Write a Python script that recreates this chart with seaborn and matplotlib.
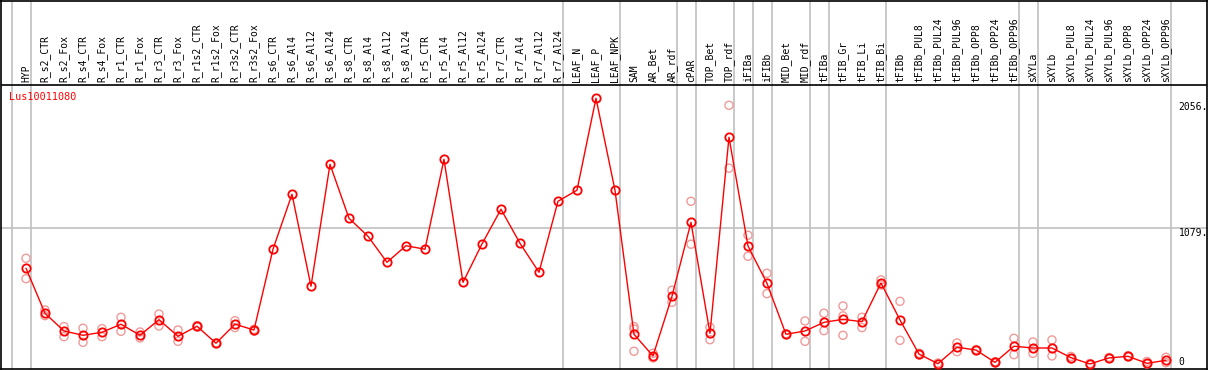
import matplotlib
matplotlib.use("Agg")
import matplotlib.pyplot as plt
import seaborn as sns
import numpy as np
import pandas as pd

categories = ["HYP", "R_s2_CTR", "R_s2_Fox", "R_s4_CTR", "R_s4_Fox", "R_r1_CTR", "R_r1_Fox",
              "R_r3_CTR", "R_r3_Fox", "R_r1s2_CTR", "R_r1s2_Fox", "R_r3s2_CTR", "R_r3s2_Fox",
              "R_s6_CTR", "R_s6_Al4", "R_s6_Al12", "R_s6_Al24", "R_s8_CTR", "R_s8_Al4",
              "R_s8_Al12", "R_s8_Al24", "R_r5_CTR", "R_r5_Al4", "R_r5_Al12", "R_r5_Al24",
              "R_r7_CTR", "R_r7_Al4", "R_r7_Al12", "R_r7_Al24", "LEAF_N", "LEAF_P", "LEAF_NPK",
              "SAM", "AR_Bet", "AR_rdf", "cPAR", "TOP_Bet", "TOP_rdf", "iFIBa", "iFIBb",
              "MID_Bet", "MID_rdf", "tFIBa", "tFIB_Gr", "tFIB_Li", "tFIB_Bi", "tFIBb",
              "tFIBb_PUL8", "tFIBb_PUL24", "tFIBb_PUL96", "tFIBb_OPP8", "tFIBb_OPP24",
              "tFIBb_OPP96", "sXYLa", "sXYLb", "sXYLb_PUL8", "sXYLb_PUL24", "sXYLb_PUL96",
              "sXYLb_OPP8", "sXYLb_OPP24", "sXYLb_OPP96"]

mean_values = [761, 403, 262, 228, 252, 316, 228, 352, 220, 300, 165, 316, 270,
               912, 1349, 618, 1587, 1158, 1015, 808, 940, 912, 1627, 649, 954,
               1230, 959, 729, 1293, 1381, 2112, 1381,
               236, 64, 538, 1126, 244, 1802, 938, 641,
               236, 262, 331, 355, 336, 644, 350,
               79, 2, 133, 111, 13, 141, 127, 127,
               50, 0, 48, 61, 5, 29]

rep_high = [840, 429, 297, 284, 281, 371, 254, 397, 270, 305, 168, 344, 275,
            np.nan, np.nan, np.nan, np.nan, np.nan, np.nan, np.nan, np.nan, np.nan, np.nan,
            np.nan, np.nan, np.nan, np.nan, np.nan, np.nan, np.nan, np.nan, np.nan,
            297, 85, 586, 1293, 292, 2056, 1023, 721,
            240, 342, 403, 461, 371, 668, 498,
            85, 8, 167, 115, 18, 204, 175, 191,
            60, 4, 52, 66, 20, 53]

rep_low = [678, 384, 217, 172, 217, 260, 207, 302, 180, 295, 160, 289, 262,
           np.nan, np.nan, np.nan, np.nan, np.nan, np.nan, np.nan, np.nan, np.nan, np.nan,
           np.nan, np.nan, np.nan, np.nan, np.nan, np.nan, np.nan, np.nan, np.nan,
           101, 48, 490, 952, 193, 1556, 856, 559,
           232, 180, 265, 228, 289, 628, 188,
           72, 0, 98, 107, 8, 74, 85, 64,
           40, 0, 44, 56, 0, 10]

rep_mid_idx = [32, 43]
rep_mid_val = [278, 382]

separator_after = [-1, 0, 28, 31, 34, 35, 37, 38, 39, 41, 42, 45, 52, 53, 60]
ytick_values = [2056, 1079, 0]
ytick_labels = ["2056.", "1079.", "0"]
gene_name = "Lus10011080"

sns.set_style("white")
plt.rcParams["font.family"] = ["DejaVu Sans Mono", "DejaVu Sans"]

idx = np.arange(len(categories))
df_mean = pd.DataFrame({"idx": idx, "value": mean_values})
df_reps = pd.concat([
    pd.DataFrame({"idx": idx, "value": rep_high}),
    pd.DataFrame({"idx": idx, "value": rep_low}),
    pd.DataFrame({"idx": rep_mid_idx, "value": rep_mid_val}),
]).dropna()

fig = plt.figure(figsize=(12.09, 3.70), dpi=100)
ax = fig.add_axes([1 / 1209, 1 / 370, 1206 / 1209, 368.5 / 370])

x_lo, x_hi = -1.316, 62.16
y_lo, y_hi = -40, 2889
plot_top = 2218
ax.set_xlim(x_lo, x_hi)
ax.set_ylim(y_lo, y_hi)

for s in separator_after:
    ax.axvline(s + 0.25, color="#c0c0c0", lw=1.2, zorder=1)
ax.axhline(1079, color="#c0c0c0", lw=1.2, zorder=1)
ax.axhline(plot_top, color="black", lw=1.2, zorder=2)

sns.scatterplot(data=df_reps, x="idx", y="value", ax=ax, marker="o", s=34,
                color="#f09a9a", linewidth=1.0, zorder=3, legend=False)
coll = ax.collections[-1]
coll.set_facecolor("none")
coll.set_edgecolor("#f09a9a")

sns.lineplot(data=df_mean, x="idx", y="value", ax=ax, color="red", lw=1.0,
             marker="o", markersize=6, markerfacecolor="none",
             markeredgecolor="red", markeredgewidth=1.3, zorder=4)

for i, name in enumerate(categories):
    ax.text(i, plot_top + 20, name, rotation=90, ha="center", va="bottom",
            fontsize=7, color="black")

label_shift = {2056: -16, 1079: -35, 0: 16}
for v, lab in zip(ytick_values, ytick_labels):
    ax.text(60.67, v + label_shift[v], lab, ha="left", va="center", fontsize=7, color="black")

ax.text(-0.88, 2120, gene_name, ha="left", va="center", fontsize=7.3, color="red")

ax.set_xticks([])
ax.set_yticks([])
ax.set_xlabel("")
ax.set_ylabel("")
for sp in ax.spines.values():
    sp.set_color("black")
    sp.set_linewidth(1.2)

fig.savefig("out.png", dpi=100)
